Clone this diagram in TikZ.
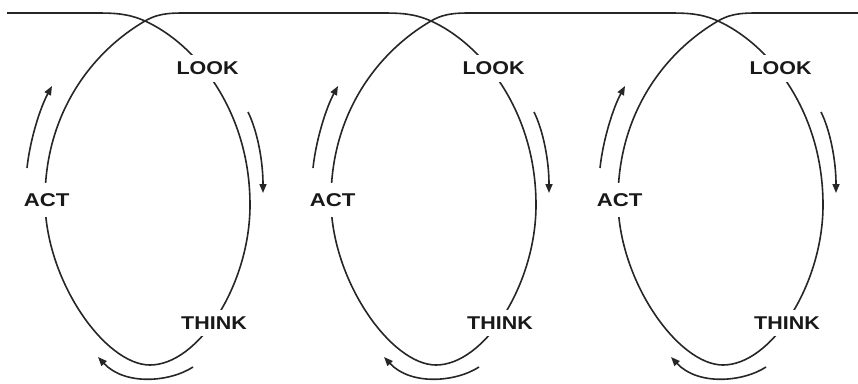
\documentclass[tikz,border=0pt]{standalone}
\usepackage{fontspec}
\usepackage{graphicx}
\setmainfont{Liberation Sans}
\usetikzlibrary{arrows.meta}
\tikzset{
  curve/.style={line width=1.6pt, draw=black!85, line join=round},
  flow/.style={line width=1.6pt, draw=black!85, -{Triangle[length=9pt,width=7pt]}},
  lbl/.style={fill=white, font=\bfseries\fontsize{18.5}{20}\selectfont, inner xsep=1pt, text=black!90},
}
\begin{document}
\begin{tikzpicture}[x=1pt,y=-1pt]
\useasboundingbox (0,0) rectangle (858,383);
% the running line with its three loops
\draw[curve] (7,13) \foreach \o in {0,286,573}{
  -- (95+\o,13) .. controls (115+\o,13) and (128+\o,13.5) .. (145+\o,21)
  .. controls (195+\o,43.5) and (250+\o,110) .. (250+\o,205)
  .. controls (250+\o,285) and (198+\o,365) .. (150+\o,365)
  .. controls (105+\o,365) and (45+\o,280) .. (45+\o,200)
  .. controls (45+\o,110) and (95+\o,50) .. (145+\o,21)
  .. controls (160+\o,12.3) and (172+\o,13) .. (195+\o,13)} -- (858,13);
\foreach \o/\i in {0/1,286/2,573/3}{
  \node[lbl, inner ysep=7pt] (look\i) at (207.5+\o,68.5) {\scalebox{1.16}[1]{LOOK}};
  \node[lbl, inner ysep=10pt] (act\i) at (46.7+\o,200) {\scalebox{1.2}[1]{ACT}};
  \node[lbl, inner ysep=7pt] (think\i) at (214+\o,323) {\scalebox{1.16}[1]{THINK}};
  \draw[flow] (27+\o,168) .. controls (30+\o,140) and (40+\o,108) .. (52+\o,86);
  \draw[flow] (248+\o,112) .. controls (257+\o,130) and (263+\o,160) .. (263+\o,193);
  \draw[flow] (193+\o,367) .. controls (170+\o,382) and (125+\o,386) .. (98+\o,357);
}
\end{tikzpicture}
\end{document}
